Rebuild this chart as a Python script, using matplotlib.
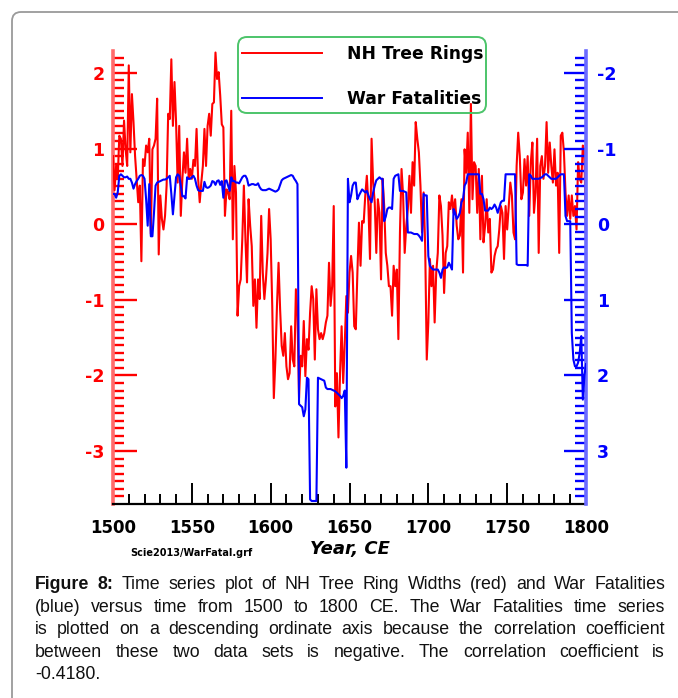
import matplotlib
matplotlib.use('Agg')
import matplotlib.pyplot as plt
import numpy as np
from matplotlib.patches import FancyBboxPatch
from matplotlib.lines import Line2D
from matplotlib.ticker import FixedLocator
from matplotlib.transforms import IdentityTransform

plt.rcParams['axes.unicode_minus'] = False

# ---------------- data ----------------
years = list(range(1500, 1801))

tree_rings = [
    0.90, 0.45, 0.78, 0.60, 1.17, 1.13, 0.77, 1.37, 0.99, 0.77,
    2.10, 0.95, 1.72, 1.35, 0.90, 0.60, 0.29, 0.51, -0.49, 0.86,
    0.77, 1.04, 0.95, 1.13, -0.13, 0.99, 1.04, 1.13, 1.66, -0.40,
    0.38, 0.07, -0.07, 0.11, 0.51, 1.46, 1.39, 2.18, 1.30, 1.88,
    1.35, 0.55, 1.30, 0.11, 0.60, 0.95, 0.68, 1.13, 0.60, 0.73,
    0.60, 0.85, 0.77, 1.26, 0.60, 0.29, 0.55, 0.77, 1.26, 0.77,
    1.30, 1.46, 1.17, 1.59, 1.61, 2.27, 1.92, 2.01, 1.70, 1.32,
    1.28, 0.11, 0.46, 0.42, 0.33, 1.50, -0.20, 0.77, 0.42, -1.21,
    -0.82, -0.73, -0.20, 0.51, -0.20, -0.77, 0.33, -0.02, -0.29, -1.08,
    -0.73, -1.37, -0.73, -0.99, 0.11, -0.64, -0.99, -0.73, -0.38, 0.20,
    -0.20, -1.08, -2.30, -1.79, -1.08, -0.51, -1.13, -1.61, -1.74, -1.44,
    -1.88, -2.05, -1.97, -1.35, -1.79, -1.88, -0.86, -1.21, -2.30, -1.74,
    -1.88, -1.28, -2.01, -1.52, -1.66, -1.17, -0.82, -0.99, -1.79, -0.86,
    -1.39, -1.52, -1.44, -1.52, -1.44, -1.30, -1.21, -0.51, -1.08, -0.82,
    0.24, -2.41, -1.97, -2.82, -1.97, -1.35, -2.10, -1.57, -0.95, -1.17,
    -0.64, -0.42, -0.64, -1.35, -1.39, -0.64, 0.02, -0.55, 0.04, 0.02,
    0.38, 0.64, 0.24, -0.46, 1.13, 0.55, 0.29, -0.38, 0.33, 0.15,
    -0.73, 0.60, 0.24, -0.38, -0.55, -0.82, -0.82, -1.21, -0.55, -0.82,
    -0.60, -1.52, -0.11, 0.73, 0.38, -0.38, -0.02, 0.20, 0.64, 0.15,
    0.82, 0.51, 1.35, 1.13, 0.95, 0.51, -0.11, 0.42, -0.29, -1.79,
    -1.30, -0.46, -0.82, -0.55, -1.30, -0.64, -0.38, 0.38, 0.24, -0.15,
    -0.91, -0.38, -0.29, 0.29, 0.20, 0.38, 0.15, 0.33, -0.02, -0.20,
    -0.15, 0.33, -0.64, 0.99, 0.68, 1.21, 0.15, 1.59, 0.33, 0.82,
    0.77, 0.15, 0.73, -0.20, 0.64, -0.24, -0.02, 0.33, -0.11, 0.07,
    -0.64, -0.60, -0.42, -0.33, -0.29, -0.07, 0.24, 0.15, -0.46, 0.24,
    -0.07, 0.24, 0.55, 0.38, -0.11, -0.20, 0.77, 1.21, 0.90, 0.33,
    0.42, 0.86, 0.51, 0.90, 0.11, 0.82, 1.08, 0.15, 0.42, 1.13,
    -0.38, 0.77, 0.90, 0.60, 0.77, 1.35, 0.68, 1.08, 0.77, 0.55,
    0.99, 0.51, 0.68, -0.38, 1.17, 1.21, 0.95, 0.42, 0.11, 0.38,
    0.07, 0.38, 0.11, 0.24, -0.07, 0.82, 0.60, 0.55, 1.04, 0.95,
    -0.20,
]

war_fatalities = [
    -0.40, -0.40, -0.35, -0.42, -0.64, -0.66, -0.64, -0.62, -0.62, -0.63,
    -0.60, -0.60, -0.55, -0.47, -0.53, -0.57, -0.60, -0.64, -0.65, -0.64,
    -0.60, -0.33, 0.02, -0.53, 0.16, 0.16, -0.15, -0.51, -0.55, -0.56,
    -0.57, -0.58, -0.59, -0.59, -0.60, -0.62, -0.64, -0.40, -0.13, -0.37,
    -0.62, -0.66, -0.64, -0.51, -0.37, -0.37, -0.34, -0.62, -0.60, -0.60,
    -0.62, -0.64, -0.60, -0.51, -0.45, -0.44, -0.44, -0.44, -0.56, -0.49,
    -0.48, -0.49, -0.51, -0.57, -0.56, -0.52, -0.57, -0.58, -0.52, -0.57,
    -0.35, -0.57, -0.58, -0.51, -0.44, -0.62, -0.57, -0.57, -0.55, -0.55,
    -0.54, -0.58, -0.62, -0.64, -0.64, -0.60, -0.51, -0.52, -0.53, -0.53,
    -0.52, -0.52, -0.54, -0.49, -0.46, -0.45, -0.45, -0.45, -0.46, -0.47,
    -0.46, -0.45, -0.44, -0.43, -0.44, -0.46, -0.52, -0.58, -0.60, -0.61,
    -0.62, -0.63, -0.64, -0.65, -0.64, -0.60, -0.57, -0.53, 2.38, 2.40,
    2.42, 2.54, 2.45, 2.03, 2.05, 3.64, 3.66, 3.66, 3.66, 3.66,
    2.03, 2.04, 2.05, 2.06, 2.07, 2.16, 2.18, 2.18, 2.18, 2.19,
    2.20, 2.21, 2.23, 2.25, 2.27, 2.30, 2.27, 2.20, 3.22, -0.60,
    -0.29, -0.38, -0.51, -0.55, -0.55, -0.33, -0.38, -0.42, -0.46, -0.44,
    -0.42, -0.44, -0.38, -0.33, -0.29, -0.42, -0.51, -0.58, -0.60, -0.62,
    -0.60, -0.60, -0.04, -0.10, -0.20, -0.22, -0.22, -0.20, -0.60, -0.64,
    -0.65, -0.66, -0.44, -0.44, -0.44, -0.43, -0.42, 0.11, 0.11, 0.11,
    0.12, 0.13, 0.13, 0.13, 0.15, 0.18, 0.22, -0.40, -0.38, -0.38,
    0.42, 0.55, 0.58, 0.60, 0.60, 0.60, 0.60, 0.64, 0.71, 0.60,
    0.57, 0.58, 0.57, 0.51, 0.55, 0.60, -0.20, -0.15, -0.07, -0.10,
    -0.15, -0.29, -0.33, -0.51, -0.55, -0.66, -0.66, -0.66, -0.66, -0.66,
    -0.66, -0.66, -0.66, -0.40, -0.40, -0.33, -0.18, -0.18, -0.18, -0.22,
    -0.20, -0.22, -0.26, -0.22, -0.15, -0.22, -0.29, -0.31, -0.31, -0.66,
    -0.66, -0.66, -0.66, -0.66, -0.66, -0.66, 0.53, 0.54, 0.54, 0.54,
    0.54, 0.54, 0.54, 0.55, -0.66, -0.64, -0.60, -0.60, -0.60, -0.60,
    -0.60, -0.61, -0.62, -0.64, -0.66, -0.66, -0.64, -0.62, -0.60, -0.60,
    -0.60, -0.60, -0.62, -0.64, -0.66, -0.66, -0.66, -0.11, -0.04, -0.04,
    -0.04, 1.44, 1.79, 1.88, 1.88, 1.83, 1.70, 1.48, 2.32, 2.00,
    1.85,
]

x_ticks = [1500, 1550, 1600, 1650, 1700, 1750, 1800]
left_ticks = [-3, -2, -1, 0, 1, 2]
right_ticks = [-2, -1, 0, 1, 2, 3]
legend_labels = ['NH Tree Rings', 'War Fatalities']
x_label = 'Year, CE'
file_note = 'Scie2013/WarFatal.grf'
caption_lines = [
    [('Figure', 'bold'), ('8:', 'bold'), ('Time', 'normal'), ('series', 'normal'),
     ('plot', 'normal'), ('of', 'normal'), ('NH', 'normal'), ('Tree', 'normal'),
     ('Ring', 'normal'), ('Widths', 'normal'), ('(red)', 'normal'), ('and', 'normal'),
     ('War', 'normal'), ('Fatalities', 'normal')],
    '(blue) versus time from 1500 to 1800 CE. The War Fatalities time series',
    'is plotted on a descending ordinate axis because the correlation coefficient',
    'between these two data sets is negative. The correlation coefficient is',
    '-0.4180.',
]

# ---------------- figure ----------------
W, H = 678, 698
fig = plt.figure(figsize=(W / 100, H / 100), dpi=100)
fig.patch.set_facecolor('white')


def fx(x):
    return x / W


def fy(y):
    return 1 - y / H


# page border (rounded, grey)
border = FancyBboxPatch((12, -30), W + 40, H - 12 + 30,
                        boxstyle='round,pad=0,rounding_size=9',
                        transform=IdentityTransform(), fill=False,
                        ec='#9a9a9a', lw=1.3)
fig.add_artist(border)

RED = '#ff0000'
BLUE = '#0000ff'

L, R, T, B = 113, 586, 51, 504
YMIN, YMAX = -3.70, 2.29
ax = fig.add_axes([fx(L), fy(B), (R - L) / W, (B - T) / H])
ax2 = ax.twinx()

ax2.plot(years, war_fatalities, color=BLUE, lw=1.5, zorder=3)
ax.plot(years, tree_rings, color=RED, lw=1.5, zorder=3)

ax.set_xlim(1500, 1800)
ax.set_ylim(YMIN, YMAX)
ax2.set_ylim(-YMIN, -YMAX)

for a in (ax, ax2):
    a.spines['top'].set_visible(False)
    a.patch.set_visible(False)
ax.spines['right'].set_visible(False)
ax2.spines['left'].set_visible(False)
ax2.spines['bottom'].set_visible(False)
ax.spines['left'].set_color('#ff6b6b')
ax.spines['left'].set_linewidth(2.6)
ax2.spines['right'].set_color('#6b6bff')
ax2.spines['right'].set_linewidth(2.6)
ax.spines['bottom'].set_color('black')
ax.spines['bottom'].set_linewidth(1.6)

tick_font = dict(fontsize=12.5, fontweight='bold', family='DejaVu Sans')

ax.set_xticks(x_ticks)
ax.xaxis.set_minor_locator(FixedLocator(np.arange(1500, 1801, 10)))
ax.set_xticklabels([str(v) for v in x_ticks], fontsize=12, fontweight='bold',
                   family='DejaVu Sans')
ax.tick_params(axis='x', which='major', direction='in', length=15, width=1.4,
               color='black', pad=11, labelcolor='black')
ax.tick_params(axis='x', which='minor', direction='in', length=7, width=1.4,
               color='black')

minor_y = np.round(np.arange(-3.6, 2.25, 0.1), 2)

ax.set_yticks(left_ticks)
ax.yaxis.set_minor_locator(FixedLocator(minor_y))
ax.set_yticklabels([str(v) for v in left_ticks], **tick_font)
ax.tick_params(axis='y', which='major', direction='in', length=17, width=1.7,
               color=RED, labelcolor=RED, pad=6, right=False)
ax.tick_params(axis='y', which='minor', direction='in', length=8, width=1.7,
               color=RED, right=False)

ax2.set_yticks(right_ticks)
ax2.yaxis.set_minor_locator(FixedLocator(-minor_y))
ax2.set_yticklabels([str(v) for v in right_ticks], **tick_font)
ax2.tick_params(axis='y', which='major', direction='in', length=16, width=1.7,
                color=BLUE, labelcolor=BLUE, pad=8, left=False)
ax2.tick_params(axis='y', which='minor', direction='in', length=8, width=1.7,
                color=BLUE, left=False)

# axis label and file note
fig.text(fx(350), fy(549), x_label, ha='center', va='center', fontsize=13,
         fontweight='bold', fontstyle='italic', family='DejaVu Sans')
fig.text(fx(191), fy(553), file_note, ha='center', va='center', fontsize=7,
         fontweight='bold', family='DejaVu Sans')

# legend box (drawn manually, rounded, green)
leg = FancyBboxPatch((238, H - 113), 486 - 238, 113 - 37,
                     boxstyle='round,pad=0,rounding_size=9',
                     transform=IdentityTransform(), fill=False,
                     ec='#4cc46a', lw=1.4, zorder=1)
fig.add_artist(leg)
for yy, col, lab in [(53, RED, legend_labels[0]), (98, BLUE, legend_labels[1])]:
    fig.add_artist(Line2D([fx(242), fx(322)], [fy(yy), fy(yy)], color=col, lw=1.4,
                          transform=fig.transFigure))
    fig.text(fx(347), fy(yy + 1), lab, ha='left', va='center', fontsize=12.3,
             fontweight='bold', family='DejaVu Sans')

# caption, justified
cap_family = 'Liberation Sans'
cap_fs = 12.8
renderer = fig.canvas.get_renderer()


def word_width(s, weight):
    t = fig.text(0, 0, s, fontsize=cap_fs, family=cap_family, fontweight=weight)
    w = t.get_window_extent(renderer=renderer).width
    t.remove()
    return w


x_left, x_right = 35, 665
base0, step = 589, 22.6
for i, line in enumerate(caption_lines):
    if isinstance(line, str):
        words = [(w, 'normal') for w in line.split(' ')]
    else:
        words = line
    yb = base0 + i * step
    widths = [word_width(w, wt) for w, wt in words]
    last = (i == len(caption_lines) - 1)
    if last or len(words) == 1:
        gap = 4
    else:
        gap = (x_right - x_left - sum(widths)) / (len(words) - 1)
    xpos = x_left
    for (w, wt), wd in zip(words, widths):
        fig.text(fx(xpos), fy(yb), w, ha='left', va='baseline', fontsize=cap_fs,
                 family=cap_family, fontweight=wt, color='#111111')
        xpos += wd + gap

fig.savefig('out.png', dpi=100)
